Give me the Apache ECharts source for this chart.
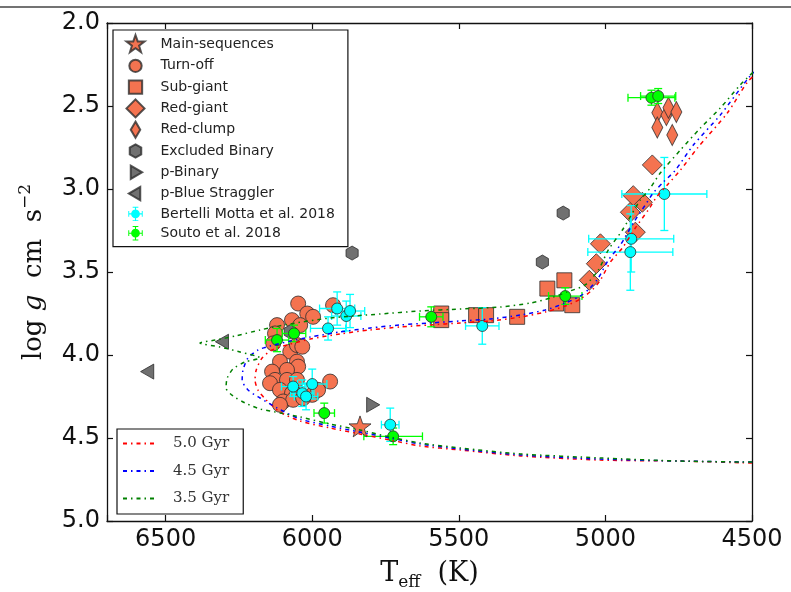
<!DOCTYPE html>
<html>
<head>
<meta charset="utf-8">
<script src="https://cdn.jsdelivr.net/npm/echarts/dist/echarts.min.js"></script>
<style>
  html, body { margin: 0; padding: 0; background: #fff; }
  #chart { width: 791px; height: 592px; }
</style>
</head>
<body>
<div id="chart"></div>
<script>
// ---- Stellar parameters (Teff in K, log g in cgs) ----
const msTeff = [5837];
const msLogg = [4.43];

const toTeff = [6048, 6017, 5997, 6120, 6069, 6127, 6133, 6075, 6052, 6034, 6110, 6052, 6048, 6137, 6086, 6127,
                6086, 6052, 6144, 6110, 6069, 6052, 6000, 5980, 5939, 6099, 6065, 6110, 6031, 5929, 6041];
const toLogg = [3.69, 3.75, 3.77, 3.82, 3.79, 3.87, 3.93, 3.98, 3.94, 3.95, 4.04, 4.04, 4.07, 4.10, 4.09, 4.15,
                4.15, 4.15, 4.17, 4.21, 4.23, 4.24, 4.24, 4.21, 4.16, 4.28, 4.27, 4.30, 4.26, 3.70, 3.82];

const sgTeff = [5560, 5560, 5441, 5407, 5301, 5198, 5140, 5168, 5113];
const sgLogg = [3.75, 3.79, 3.76, 3.76, 3.77, 3.60, 3.55, 3.69, 3.70];

const rgTeff = [5055, 5031, 5017, 4898, 4915, 4874, 4905, 4840];
const rgLogg = [3.55, 3.45, 3.33, 3.26, 3.14, 3.08, 3.04, 2.855];

const rcTeff = [4823, 4792, 4785, 4758, 4823, 4772];
const rcLogg = [2.54, 2.555, 2.51, 2.536, 2.63, 2.675];

const exTeff = [5864, 5144, 5215, 6075];
const exLogg = [3.386, 3.145, 3.44, 3.86];

const pbTeff = [5792];
const pbLogg = [4.30];

const bsTeff = [6308, 6563];
const bsLogg = [3.92, 4.10];

// Literature values with uncertainties
const bmTeff    = [5915, 5884, 5871, 5946, 6065, 6000, 6034, 6021, 5734, 5420, 4799, 4912, 4915];
const bmLogg    = [3.72, 3.765, 3.735, 3.84, 4.19, 4.175, 4.23, 4.25, 4.42, 3.825, 3.03, 3.30, 3.38];
const bmTeffErr = [60, 50, 50, 60, 40, 50, 40, 40, 30, 57, 145, 145, 145];
const bmLoggErr = [0.10, 0.09, 0.10, 0.07, 0.06, 0.09, 0.08, 0.08, 0.10, 0.11, 0.22, 0.20, 0.23];

const soTeff    = [4843, 4820, 5137, 5594, 6062, 6120, 5959, 5724];
const soLogg    = [2.45, 2.44, 3.645, 3.77, 3.87, 3.91, 4.35, 4.49];
const soTeffErr = [80, 60, 57, 40, 40, 40, 35, 100];
const soLoggErr = [0.045, 0.045, 0.05, 0.06, 0.05, 0.07, 0.06, 0.05];

// Isochrones, main sequence -> giant branch
const iso50Teff = [4500, 4744, 5017, 5290, 5495, 5632, 5734, 5837, 5939, 6041, 6110, 6157, 6185, 6195, 6191, 6171,
                   6137, 6075, 6007, 5905, 5802, 5700, 5598, 5495, 5393, 5290, 5205, 5137, 5086, 5045, 5017, 4983,
                   4942, 4898, 4854, 4823, 4789, 4744, 4686, 4584, 4515, 4471];
const iso50Logg = [4.651, 4.639, 4.633, 4.608, 4.572, 4.548, 4.512, 4.476, 4.440, 4.398, 4.343, 4.271, 4.211, 4.151,
                   4.090, 4.018, 3.970, 3.934, 3.904, 3.873, 3.849, 3.831, 3.819, 3.807, 3.795, 3.771, 3.741, 3.705,
                   3.663, 3.608, 3.548, 3.440, 3.355, 3.235, 3.127, 3.042, 2.976, 2.886, 2.753, 2.542, 2.355, 2.283];

const iso45Teff = [4500, 4744, 5017, 5290, 5495, 5632, 5734, 5837, 5939, 6041, 6120, 6178, 6219, 6239, 6236, 6219,
                   6185, 6144, 6075, 6007, 5905, 5802, 5700, 5598, 5495, 5393, 5290, 5205, 5137, 5086, 5052, 5024,
                   4990, 4949, 4905, 4864, 4837, 4802, 4761, 4700, 4608, 4512, 4471];
const iso45Logg = [4.645, 4.639, 4.627, 4.602, 4.566, 4.536, 4.500, 4.464, 4.428, 4.386, 4.319, 4.259, 4.211, 4.151,
                   4.090, 4.018, 3.970, 3.946, 3.916, 3.892, 3.861, 3.837, 3.819, 3.807, 3.795, 3.783, 3.759, 3.729,
                   3.687, 3.645, 3.596, 3.536, 3.428, 3.337, 3.205, 3.096, 3.024, 2.958, 2.886, 2.735, 2.554, 2.331, 2.259];

const iso35Teff = [4500, 4744, 5017, 5290, 5495, 5632, 5734, 5837, 5939, 6041, 6110, 6178, 6229, 6270, 6294, 6290,
                   6270, 6229, 6178, 6246, 6314, 6383, 6331, 6263, 6178, 6075, 5939, 5768, 5632, 5495, 5359, 5256,
                   5188, 5130, 5069, 5024, 4990, 4942, 4881, 4847, 4813, 4744, 4676, 4608, 4540, 4471];
const iso35Logg = [4.645, 4.639, 4.620, 4.596, 4.560, 4.530, 4.494, 4.452, 4.416, 4.373, 4.349, 4.325, 4.289, 4.247,
                   4.199, 4.139, 4.084, 4.042, 4.018, 3.982, 3.952, 3.928, 3.910, 3.886, 3.849, 3.813, 3.777, 3.753,
                   3.735, 3.723, 3.711, 3.687, 3.657, 3.620, 3.578, 3.488, 3.367, 3.247, 3.066, 2.994, 2.904, 2.765,
                   2.633, 2.512, 2.373, 2.253];

const xTicks = [4500, 5000, 5500, 6000, 6500];
const yTicks = [2.0, 2.5, 3.0, 3.5, 4.0, 4.5, 5.0];

// ---- helpers ----
const pairs = (xs, ys) => xs.map((x, i) => [x, ys[i]]);
const quads = (xs, ys, dx, dy) => xs.map((x, i) => [x, ys[i], dx[i], dy[i]]);

const ORANGE = '#f47350';
const EDGE = 'rgba(45,45,45,0.8)';
const GREY = '#707070';

// marker outlines
const STAR = 'M0,-10 L2.35,-3.24 L9.51,-3.09 L3.8,1.24 L5.88,8.09 L0,4 L-5.88,8.09 L-3.8,1.24 L-9.51,-3.09 L-2.35,-3.24 Z';
const HEX = 'M0,-10 L8.66,-5 L8.66,5 L0,10 L-8.66,5 L-8.66,-5 Z';
const TRI_R = 'M-6,-8 L8,0 L-6,8 Z';
const TRI_L = 'M6,-8 L-8,0 L6,8 Z';

// legend icons share a 20x20 frame so each keeps its own size
const FRAME = 'M-10,-10 M10,10 ';
const circ = r => `M${-r},0 A${r},${r} 0 1,1 ${r},0 A${r},${r} 0 1,1 ${-r},0 Z`;
const ERRICON = 'M-7,-0.6 L7,-0.6 L7,0.6 L-7,0.6 Z M-0.6,-7 L0.6,-7 L0.6,7 L-0.6,7 Z ' +
                'M-7.6,-3 L-6.6,-3 L-6.6,3 L-7.6,3 Z M6.6,-3 L7.6,-3 L7.6,3 L6.6,3 Z ' +
                'M-3,-7.6 L3,-7.6 L3,-6.6 L-3,-6.6 Z M-3,6.6 L3,6.6 L3,7.6 L-3,7.6 Z ' + circ(4.6);
const LEG = {
  ms: 'path://' + FRAME + STAR,
  to: 'path://' + FRAME + circ(6.5),
  sg: 'path://' + FRAME + 'M-7,-7 L7,-7 L7,7 L-7,7 Z',
  rg: 'path://' + FRAME + 'M0,-9.5 L9.5,0 L0,9.5 L-9.5,0 Z',
  rc: 'path://' + FRAME + 'M0,-8.5 L5,0 L0,8.5 L-5,0 Z',
  ex: 'path://' + FRAME + 'M0,-7 L6.06,-3.5 L6.06,3.5 L0,7 L-6.06,3.5 L-6.06,-3.5 Z',
  pb: 'path://' + FRAME + 'M-5,-7 L7,0 L-5,7 Z',
  bs: 'path://' + FRAME + 'M5,-7 L-7,0 L5,7 Z',
  err: 'path://' + FRAME + ERRICON
};

function errorBars(color) {
  return function (params, api) {
    const t = api.value(0), g = api.value(1), dt = api.value(2), dg = api.value(3);
    const l = api.coord([t - dt, g]), r = api.coord([t + dt, g]);
    const u = api.coord([t, g - dg]), d = api.coord([t, g + dg]);
    const c = 4;
    const style = { stroke: color, lineWidth: 1.3 };
    const seg = (x1, y1, x2, y2) => ({ type: 'line', shape: { x1, y1, x2, y2 }, style });
    return {
      type: 'group',
      children: [
        seg(l[0], l[1], r[0], r[1]),
        seg(u[0], u[1], d[0], d[1]),
        seg(l[0], l[1] - c, l[0], l[1] + c),
        seg(r[0], r[1] - c, r[0], r[1] + c),
        seg(u[0] - c, u[1], u[0] + c, u[1]),
        seg(d[0] - c, d[1], d[0] + c, d[1])
      ]
    };
  };
}

const tickLine = { lineStyle: { color: '#111', width: 1.2 } };
const axisLine = { show: true, onZero: false, lineStyle: { color: '#111', width: 1.3 } };

function xAxisDef(pos, showLabels) {
  return {
    type: 'value', position: pos, min: 4500, max: 6700, interval: 500, inverse: true,
    axisLine, splitLine: { show: false },
    axisTick: Object.assign({ inside: true, length: 6 }, tickLine),
    axisLabel: {
      show: showLabels, margin: 7, color: '#111', fontFamily: 'DejaVu Sans', fontSize: 24,
      formatter: v => (xTicks.indexOf(v) >= 0 ? String(v) : '')
    }
  };
}
function yAxisDef(pos, showLabels) {
  return {
    type: 'value', position: pos, min: 2, max: 5, interval: 0.5, inverse: true,
    axisLine, splitLine: { show: false },
    axisTick: Object.assign({ inside: true, length: 6 }, tickLine),
    axisLabel: {
      show: showLabels, margin: 7, color: '#111', fontFamily: 'DejaVu Sans', fontSize: 24,
      formatter: v => (yTicks.indexOf(v) >= 0 ? v.toFixed(1) : '')
    }
  };
}

const xBottom = xAxisDef('bottom', true);
xBottom.name = 'T{sub|eff}  (K)';
xBottom.nameLocation = 'middle';
xBottom.nameGap = 33;
xBottom.nameTextStyle = {
  fontFamily: 'DejaVu Serif', fontSize: 27, color: '#111', lineHeight: 34,
  rich: { sub: { fontFamily: 'DejaVu Serif', fontSize: 17, lineHeight: 20, verticalAlign: 'bottom' } }
};

const yLeft = yAxisDef('left', true);
yLeft.name = 'log {i|g}  cm  s{sup|−2}';
yLeft.nameLocation = 'middle';
yLeft.nameGap = 54;
yLeft.nameTextStyle = {
  fontFamily: 'DejaVu Serif', fontSize: 26, color: '#111', lineHeight: 34,
  rich: {
    i: { fontFamily: 'DejaVu Serif', fontStyle: 'italic', fontSize: 26, lineHeight: 34 },
    sup: { fontFamily: 'DejaVu Serif', fontSize: 17, lineHeight: 20, verticalAlign: 'top' }
  }
};

const isoLine = (name, color, xs, ys) => ({
  name, type: 'line', data: pairs(xs, ys), symbol: 'none', smooth: 0.25, z: 6, silent: true,
  xAxisIndex: 0, yAxisIndex: 0,
  lineStyle: { color, width: 1.5, type: [4, 4, 1.5, 4] },
  itemStyle: { color }
});

const scatterBase = (name, data, symbol, size, color, z) => ({
  name, type: 'scatter', data, symbol, symbolSize: size, symbolKeepAspect: true, z: z || 3, silent: true,
  itemStyle: { color, borderColor: EDGE, borderWidth: 1, opacity: 1 }
});

const chart = echarts.init(document.getElementById('chart'), null, { renderer: 'canvas' });
chart.setOption({
  animation: false,
  backgroundColor: '#fff',
  grid: { left: 107, right: 39, top: 23, bottom: 71, containLabel: false, outerBoundsMode: 'none' },
  xAxis: [xBottom, xAxisDef('top', false)],
  yAxis: [yLeft, yAxisDef('right', false)],
  graphic: [{
    type: 'line', silent: true, z: 10,
    shape: { x1: 0, y1: 7, x2: 791, y2: 7 },
    style: { stroke: '#444', lineWidth: 1.6 }
  }],
  legend: [
    {
      orient: 'vertical', left: 113, top: 30, padding: [4, 13, 4, 12],
      itemWidth: 40, itemHeight: 19, itemGap: 0.3, selectedMode: false,
      backgroundColor: '#fff', borderColor: '#111', borderWidth: 1.2, borderRadius: 0,
      textStyle: { fontFamily: 'DejaVu Sans', fontSize: 14, lineHeight: 19, color: '#222' },
      data: [
        { name: 'Main-sequences', icon: LEG.ms },
        { name: 'Turn-off', icon: LEG.to },
        { name: 'Sub-giant', icon: LEG.sg },
        { name: 'Red-giant', icon: LEG.rg },
        { name: 'Red-clump', icon: LEG.rc },
        { name: 'Excluded Binary', icon: LEG.ex },
        { name: 'p-Binary', icon: LEG.pb },
        { name: 'p-Blue Straggler', icon: LEG.bs },
        { name: 'Bertelli Motta et al. 2018', icon: LEG.err, itemStyle: { borderWidth: 0 } },
        { name: 'Souto et al. 2018', icon: LEG.err, itemStyle: { borderWidth: 0 } }
      ]
    },
    {
      orient: 'vertical', left: 117, top: 429, padding: [7, 14, 8, 5],
      itemWidth: 35, itemHeight: 14, itemGap: 12.5, selectedMode: false,
      backgroundColor: '#fff', borderColor: '#111', borderWidth: 1.2, borderRadius: 0,
      itemStyle: { color: 'rgba(0,0,0,0)', borderColor: 'rgba(0,0,0,0)', borderWidth: 0, opacity: 0 },
      textStyle: { fontFamily: 'DejaVu Serif', fontSize: 15, color: '#333', padding: [0, 0, 0, 10] },
      data: ['5.0 Gyr', '4.5 Gyr', '3.5 Gyr']
    }
  ],
  series: [
    scatterBase('Turn-off', pairs(toTeff, toLogg), 'circle', 15, ORANGE),
    scatterBase('Sub-giant', pairs(sgTeff, sgLogg), 'rect', 15, ORANGE),
    scatterBase('Red-giant', pairs(rgTeff, rgLogg), 'diamond', 20, ORANGE),
    scatterBase('Red-clump', pairs(rcTeff, rcLogg), 'diamond', [11, 21], ORANGE),
    scatterBase('Excluded Binary', pairs(exTeff, exLogg), 'path://' + HEX, 14, GREY),
    scatterBase('p-Binary', pairs(pbTeff, pbLogg), 'path://' + TRI_R, 15, GREY),
    scatterBase('p-Blue Straggler', pairs(bsTeff, bsLogg), 'path://' + TRI_L, 15, GREY),
    scatterBase('Main-sequences', pairs(msTeff, msLogg), 'path://' + STAR, 22, ORANGE, 4),
    scatterBase('Bertelli Motta et al. 2018', pairs(bmTeff, bmLogg), 'circle', 11, '#00ffff', 5),
    scatterBase('Souto et al. 2018', pairs(soTeff, soLogg), 'circle', 11, '#00ff00', 5),
    {
      name: 'Bertelli Motta et al. 2018', type: 'custom', z: 4, silent: true,
      renderItem: errorBars('#00ffff'), data: quads(bmTeff, bmLogg, bmTeffErr, bmLoggErr),
      encode: { x: 0, y: 1 }, itemStyle: { color: '#00ffff' }
    },
    {
      name: 'Souto et al. 2018', type: 'custom', z: 4, silent: true,
      renderItem: errorBars('#00ff00'), data: quads(soTeff, soLogg, soTeffErr, soLoggErr),
      encode: { x: 0, y: 1 }, itemStyle: { color: '#00ff00' }
    },
    isoLine('5.0 Gyr', '#ff0000', iso50Teff, iso50Logg),
    isoLine('4.5 Gyr', '#0000ff', iso45Teff, iso45Logg),
    isoLine('3.5 Gyr', '#008000', iso35Teff, iso35Logg)
  ]
});
</script>
</body>
</html>
